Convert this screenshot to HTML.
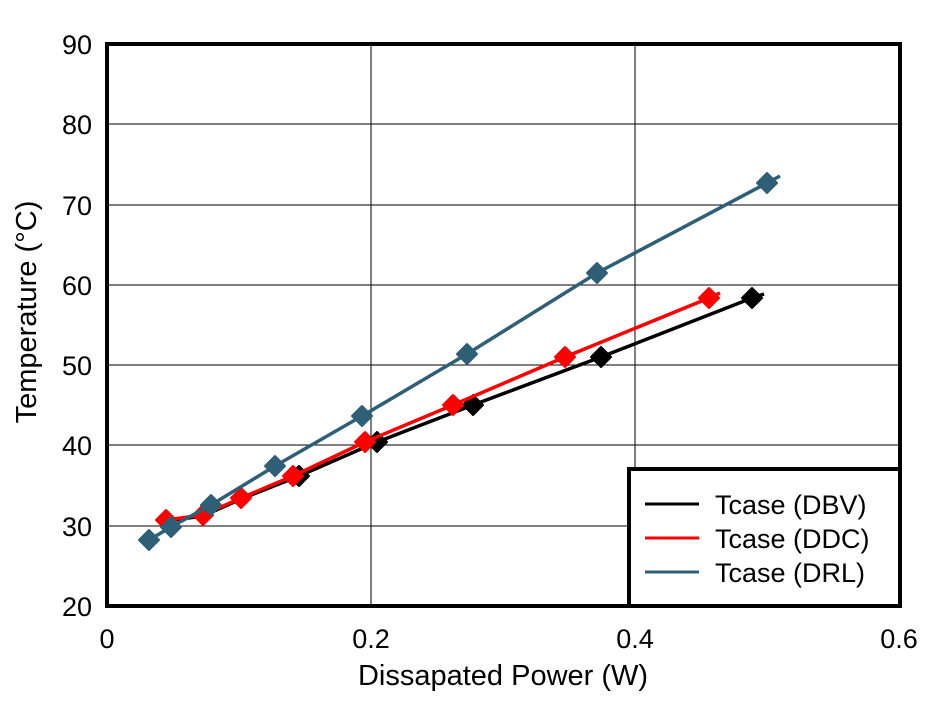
<!DOCTYPE html>
<html><head><meta charset="utf-8"><style>body{margin:0;background:#fff}</style></head><body>
<svg width="944" height="701" xmlns="http://www.w3.org/2000/svg" font-family="Liberation Sans, Arial, sans-serif">
<rect width="944" height="701" fill="#fff"/>
<g stroke="#000" stroke-width="1">
<line x1="371" y1="44" x2="371" y2="606"/><line x1="635" y1="44" x2="635" y2="606"/>
<line x1="107" y1="124" x2="900" y2="124"/><line x1="107" y1="205" x2="900" y2="205"/>
<line x1="107" y1="285" x2="900" y2="285"/><line x1="107" y1="365" x2="900" y2="365"/>
<line x1="107" y1="445" x2="900" y2="445"/><line x1="107" y1="526" x2="900" y2="526"/>
</g>
<defs><path id="d" d="M0,-10 L10,0 L0,10 L-10,0Z" stroke-linejoin="round" stroke-width="2"/></defs>
<polyline fill="none" stroke="#000" stroke-width="3.5" points="166,521 203,516 241,499 299,476 377,442 473,405 601,357 752,298 764,294"/>
<g fill="#000" stroke="#000"><use href="#d" x="299" y="476"/><use href="#d" x="377" y="442"/><use href="#d" x="473" y="405"/><use href="#d" x="601" y="357"/><use href="#d" x="752" y="298"/></g>
<polyline fill="none" stroke="#f00" stroke-width="3.5" points="166,520 203,515 241,498 293,476 365,442 453,405 565,357 709,298 720,293"/>
<g fill="#f00" stroke="#f00"><use href="#d" x="166" y="520"/><use href="#d" x="203" y="515"/><use href="#d" x="241" y="498"/><use href="#d" x="293" y="476"/><use href="#d" x="365" y="442"/><use href="#d" x="453" y="405"/><use href="#d" x="565" y="357"/><use href="#d" x="709" y="298"/></g>
<polyline fill="none" stroke="#2e5f76" stroke-width="3.5" points="149,540 171,527 211,505 275,466 362,416 467,354 597,273 767,183 780,176"/>
<g fill="#2e5f76" stroke="#2e5f76"><use href="#d" x="149" y="540"/><use href="#d" x="171" y="527"/><use href="#d" x="211" y="505"/><use href="#d" x="275" y="466"/><use href="#d" x="362" y="416"/><use href="#d" x="467" y="354"/><use href="#d" x="597" y="273"/><use href="#d" x="767" y="183"/></g>
<rect x="107" y="44" width="793" height="562" fill="none" stroke="#000" stroke-width="4"/>
<rect x="629" y="469" width="271" height="137" fill="#fff" stroke="#000" stroke-width="4"/>
<line x1="645" y1="504" x2="699" y2="504" stroke="#000" stroke-width="3"/>
<line x1="645" y1="538" x2="699" y2="538" stroke="#f00" stroke-width="3"/>
<line x1="645" y1="572" x2="699" y2="572" stroke="#2e5f76" stroke-width="3"/>
<g font-size="27" fill="#000">
<text x="715" y="514">Tcase (DBV)</text><text x="715" y="548">Tcase (DDC)</text><text x="715" y="582">Tcase (DRL)</text>
</g>
<g font-size="27" text-anchor="end" fill="#000">
<text x="92" y="54">90</text><text x="92" y="134">80</text><text x="92" y="215">70</text><text x="92" y="295">60</text><text x="92" y="375">50</text><text x="92" y="455">40</text><text x="92" y="536">30</text><text x="92" y="616">20</text>
</g>
<g font-size="27" text-anchor="middle" fill="#000">
<text x="107" y="648">0</text><text x="371" y="648">0.2</text><text x="635" y="648">0.4</text><text x="899" y="648">0.6</text>
<text x="503" y="685" font-size="29">Dissapated Power (W)</text>
<text transform="translate(36,312) rotate(-90)" font-size="29">Temperature (°C)</text>
</g>
</svg>
</body></html>
